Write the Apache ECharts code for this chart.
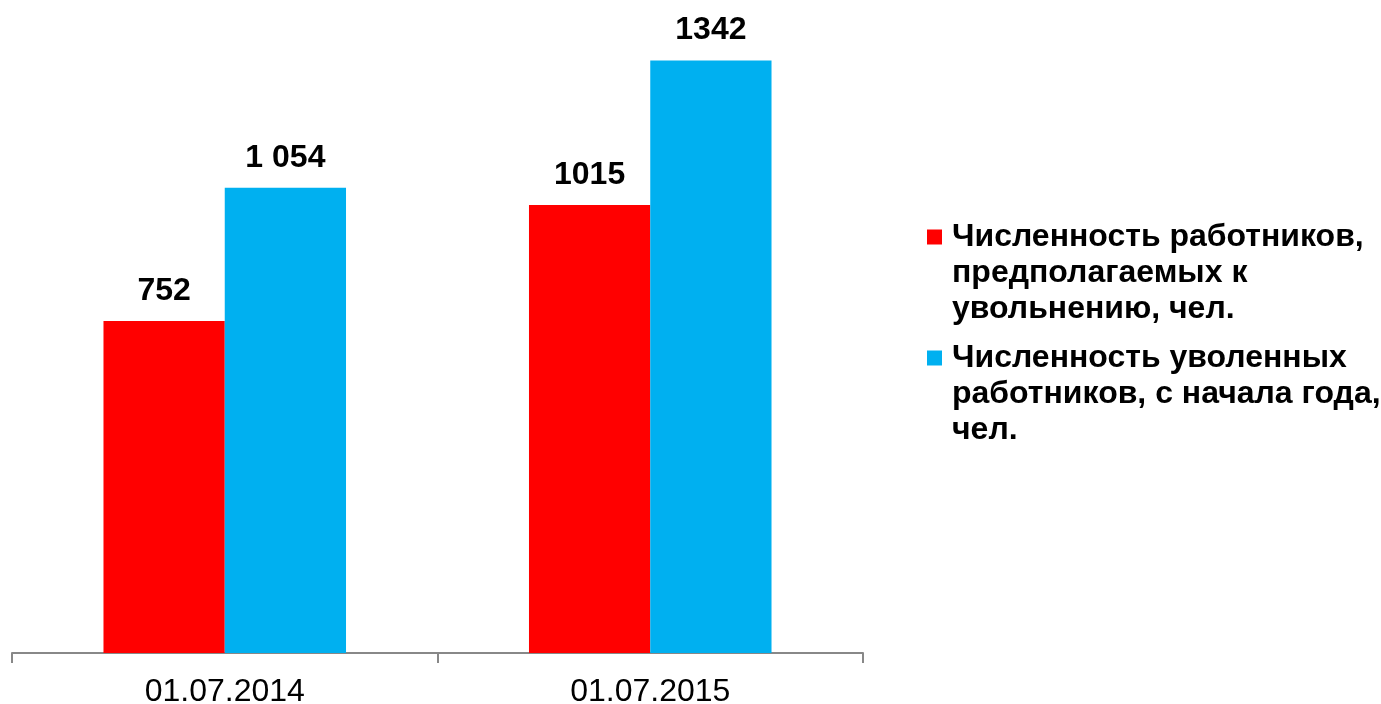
<!DOCTYPE html>
<html>
<head>
<meta charset="utf-8">
<script src="https://cdn.jsdelivr.net/npm/echarts@6/dist/echarts.min.js"></script>
<style>
    html, body { margin: 0; padding: 0; background: #fff; }
    #chart { width: 1381px; height: 704px; }
</style>
</head>
<body>
<div id="chart"></div>
<script>
    const categories = ['01.07.2014', '01.07.2015'];
    const seriesNames = [
        'Численность работников, предполагаемых к увольнению, чел.',
        'Численность уволенных работников, с начала года, чел.',
    ];
    const planned = [752, 1015];
    const dismissed = [1054, 1342];
    const plannedLabels = ['752', '1015'];
    const dismissedLabels = ['1 054', '1342'];
    // legend text broken into lines as in the original
    const legendLines = [
        ['Численность работников,', 'предполагаемых к', 'увольнению, чел.'],
        ['Численность уволенных', 'работников, с начала года,', 'чел.'],
    ];

    const font = 'Arial, "Liberation Sans", sans-serif';

    const chart = echarts.init(document.getElementById('chart'));

    const labelStyle = (texts) => ({
        show: true,
        position: 'top',
        distance: 14,
        color: '#000',
        fontFamily: font,
        fontSize: 32,
        fontWeight: 'bold',
        formatter: (p) => texts[p.dataIndex],
    });

    const option = {
        animation: false,
        grid: {
            left: 12,
            right: 518,
            top: 35,
            bottom: 51,
            containLabel: false,
            outerBoundsMode: 'none',
        },
        legend: {
            orient: 'vertical',
            left: 917,
            top: 216,
            itemGap: 17,
            itemWidth: 0,
            itemHeight: 0,
            selectedMode: false,
            data: seriesNames,
            formatter: (name) => {
                const i = seriesNames.indexOf(name);
                return legendLines[i]
                    .map((line, k) => (k === 0 ? '{m' + i + '|}{g|}' : '{ind|}') + '{t|' + line + '}')
                    .join('\n');
            },
            textStyle: {
                color: '#000',
                fontFamily: font,
                fontSize: 32,
                fontWeight: 'bold',
                rich: {
                    m0: { width: 15, height: 15, backgroundColor: '#ff0000' },
                    m1: { width: 15, height: 15, backgroundColor: '#00b0f0' },
                    g: { width: 10, height: 15 },
                    ind: { width: 25, height: 15 },
                    t: {
                        color: '#000',
                        fontFamily: font,
                        fontSize: 32,
                        fontWeight: 'bold',
                        lineHeight: 36,
                    },
                },
            },
        },
        xAxis: {
            type: 'category',
            data: categories,
            axisLine: { lineStyle: { color: '#888', width: 2 } },
            axisTick: { show: true, length: 10, lineStyle: { color: '#888', width: 2 } },
            axisLabel: {
                color: '#000',
                fontFamily: font,
                fontSize: 32,
                margin: 23,
            },
        },
        yAxis: {
            type: 'value',
            min: 0,
            max: 1400,
            show: false,
            splitLine: { show: false },
        },
        series: [
            {
                name: seriesNames[0],
                type: 'bar',
                data: planned,
                barGap: '0%',
                barCategoryGap: '43%',
                itemStyle: { color: '#ff0000' },
                label: labelStyle(plannedLabels),
            },
            {
                name: seriesNames[1],
                type: 'bar',
                data: dismissed,
                barGap: '0%',
                barCategoryGap: '43%',
                itemStyle: { color: '#00b0f0' },
                label: labelStyle(dismissedLabels),
            },
        ],
    };

    chart.setOption(option);
</script>
</body>
</html>
